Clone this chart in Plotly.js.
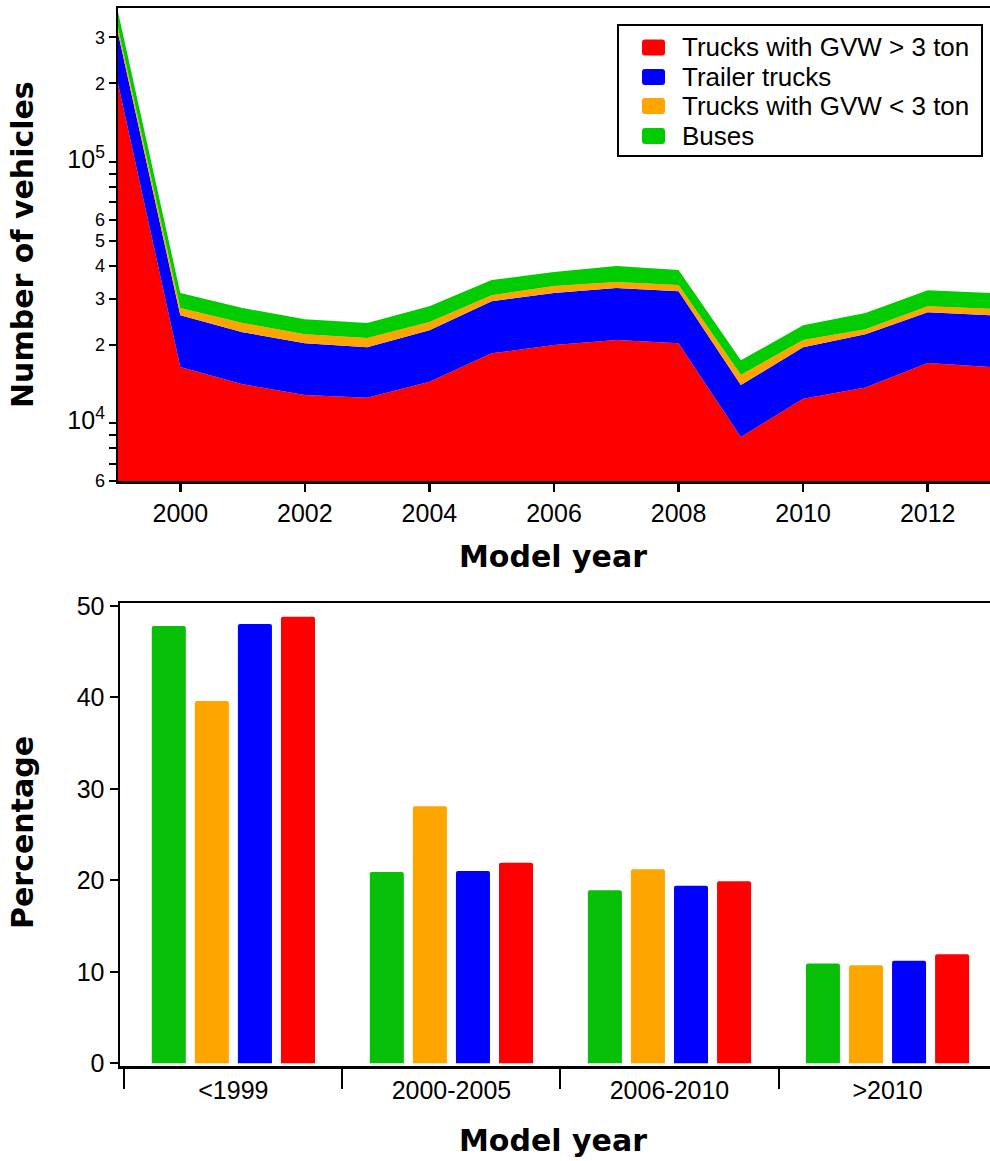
<!DOCTYPE html>
<html>
<head>
<meta charset="utf-8">
<script src="https://cdn.plot.ly/plotly-3.0.1.min.js"></script>
<style>html,body{margin:0;padding:0;background:#fff;}#chart{width:990px;height:1161px;}</style>
</head>
<body>
<div id="chart"></div>
<script>
// ---- Data: top chart (number of vehicles by model year) ----
var years = [1999, 2000, 2001, 2002, 2003, 2004, 2005, 2006, 2007, 2008, 2009, 2010, 2011, 2012, 2013];
var trucksHeavy = [200000, 16400, 14100, 12800, 12500, 14400, 18500, 19900, 20800, 20200, 8840, 12400, 13700, 17000, 16400];
var trailerTrucks = [112000, 9500, 8200, 7400, 7000, 8300, 10800, 11600, 12100, 11800, 5160, 7100, 8200, 9600, 9500];
var trucksLight = [14000, 1700, 1900, 1700, 1700, 1700, 1600, 2000, 1800, 1800, 1300, 1300, 1000, 1400, 1500];
var buses = [50000, 3900, 3400, 3100, 3000, 3600, 4400, 4400, 5300, 4800, 2100, 2900, 3500, 4300, 4100];

var seriesNames = ['Trucks with GVW > 3 ton', 'Trailer trucks', 'Trucks with GVW < 3 ton', 'Buses'];

// ---- Data: bottom chart (percentage by model-year group) ----
var yearGroups = ['&lt;1999', '2000-2005', '2006-2010', '&gt;2010'];
var pctBuses = [47.8, 20.9, 18.9, 10.9];
var pctTrucksLight = [39.6, 28.1, 21.2, 10.7];
var pctTrailer = [48.0, 21.0, 19.4, 11.2];
var pctTrucksHeavy = [48.8, 21.9, 19.9, 11.9];

// ---- Tick labels (top log axis) ----
var logTickVals = [6000, 10000, 20000, 30000, 40000, 50000, 60000, 100000, 200000, 300000];
var logTickText = ['6', '<span style="font-size:25px">10<sup>4</sup></span>', '2', '3', '4', '5', '6', '<span style="font-size:25px">10<sup>5</sup></span>', '2', '3'];
var logMinorVals = [7000, 8000, 9000, 70000, 80000, 90000];
var xTickVals = [2000, 2002, 2004, 2006, 2008, 2010, 2012];
var pctTickVals = [0, 10, 20, 30, 40, 50];

// ---- Styles ----
var cRed = '#FF0000', cBlue = '#0000FF', cOrange = '#FFA500', cGreenArea = '#00CC00', cGreenBar = '#08BF08';
var W = 990, H = 1161;
function px(x) { return x / W; }
function py(y) { return 1 - y / H; }

var traces = [];
var areaData = [trucksHeavy, trailerTrucks, trucksLight, buses];
var areaColors = [cRed, cBlue, cOrange, cGreenArea];
for (var i = 0; i < areaData.length; i++) {
  traces.push({
    type: 'scatter', mode: 'lines', x: years, y: areaData[i],
    stackgroup: 'veh', line: {width: 0, color: areaColors[i]},
    fillcolor: areaColors[i], name: seriesNames[i], showlegend: false,
    xaxis: 'x', yaxis: 'y', hoverinfo: 'x+y+name'
  });
}

var barData = [pctBuses, pctTrucksLight, pctTrailer, pctTrucksHeavy];
var barNames = [seriesNames[3], seriesNames[2], seriesNames[1], seriesNames[0]];
var barColors = [cGreenBar, cOrange, cBlue, cRed];
for (var j = 0; j < barData.length; j++) {
  traces.push({
    type: 'bar', x: yearGroups, y: barData[j], name: barNames[j],
    marker: {color: barColors[j], cornerradius: 2, line: {width: 0}},
    showlegend: false, xaxis: 'x2', yaxis: 'y2'
  });
}

// ---- Custom legend (shapes + text) ----
var shapes = [];
var annotations = [];
shapes.push({type: 'rect', xref: 'paper', yref: 'paper', x0: px(618), x1: px(982), y0: py(25), y1: py(156),
  line: {color: '#000', width: 2}, fillcolor: '#fff', layer: 'above'});
var legColors = [cRed, cBlue, cOrange, cGreenArea];
var legRowY = [47.5, 77, 106, 136];
for (var k = 0; k < seriesNames.length; k++) {
  var x0 = 642, x1 = 665, y0 = legRowY[k] - 8, y1 = legRowY[k] + 8, r = 3;
  var path = 'M' + (x0 + r) + ',' + y0 + ' L' + (x1 - r) + ',' + y0 + ' Q' + x1 + ',' + y0 + ' ' + x1 + ',' + (y0 + r) +
    ' L' + x1 + ',' + (y1 - r) + ' Q' + x1 + ',' + y1 + ' ' + (x1 - r) + ',' + y1 +
    ' L' + (x0 + r) + ',' + y1 + ' Q' + x0 + ',' + y1 + ' ' + x0 + ',' + (y1 - r) +
    ' L' + x0 + ',' + (y0 + r) + ' Q' + x0 + ',' + y0 + ' ' + (x0 + r) + ',' + y0 + ' Z';
  var pth = path.replace(/(-?\d+(\.\d+)?),(-?\d+(\.\d+)?)/g, function(m, a, b, c) {
    return px(parseFloat(a)).toFixed(5) + ',' + py(parseFloat(c)).toFixed(5);
  });
  shapes.push({type: 'path', xref: 'paper', yref: 'paper', path: pth, fillcolor: legColors[k], line: {width: 0}, layer: 'above'});
  annotations.push({xref: 'paper', yref: 'paper', x: px(680), y: py(legRowY[k]), xanchor: 'left', yanchor: 'middle',
    text: seriesNames[k].replace(/</g, '&lt;').replace(/>/g, '&gt;'), showarrow: false,
    font: {family: 'Liberation Sans, Arial, sans-serif', size: 26, color: '#000'}});
}

// ---- Axis titles ----
var titleFont = {family: 'DejaVu Sans, sans-serif', size: 30, color: '#000'};
annotations.push({xref: 'paper', yref: 'paper', x: px(22), y: py(245), text: '<b>Number of vehicles</b>', textangle: -90,
  showarrow: false, xanchor: 'center', yanchor: 'middle', font: titleFont});
annotations.push({xref: 'paper', yref: 'paper', x: px(553), y: py(556), text: '<b>Model year</b>',
  showarrow: false, xanchor: 'center', yanchor: 'middle', font: titleFont});
annotations.push({xref: 'paper', yref: 'paper', x: px(22), y: py(833), text: '<b>Percentage</b>', textangle: -90,
  showarrow: false, xanchor: 'center', yanchor: 'middle', font: titleFont});
annotations.push({xref: 'paper', yref: 'paper', x: px(553), y: py(1140), text: '<b>Model year</b>',
  showarrow: false, xanchor: 'center', yanchor: 'middle', font: titleFont});

var tickFont = {family: 'Liberation Sans, Arial, sans-serif', size: 25, color: '#000'};

var layout = {
  width: W, height: H,
  margin: {l: 0, r: 0, t: 0, b: 0, pad: 0},
  paper_bgcolor: '#fff', plot_bgcolor: '#fff',
  font: {family: 'Liberation Sans, Arial, sans-serif', color: '#000'},
  showlegend: false,
  barmode: 'group', bargap: 0.21, bargroupgap: 0.21,
  xaxis: {
    domain: [px(118), 1], range: [1999, 2013], anchor: 'y',
    tickmode: 'array', tickvals: xTickVals, ticks: 'outside', ticklen: 8, tickwidth: 2.5, tickcolor: '#000',
    showline: true, linewidth: 2.5, linecolor: '#000', mirror: true, showgrid: false, zeroline: false,
    tickfont: tickFont
  },
  yaxis: {
    domain: [py(481), py(8)], type: 'log', range: [Math.log10(6000), 5.59], anchor: 'x',
    tickmode: 'array', tickvals: logTickVals, ticktext: logTickText,
    ticks: 'outside', ticklen: 7, tickwidth: 2, tickcolor: '#000',
    minor: {tickmode: 'array', tickvals: logMinorVals, ticks: 'outside', ticklen: 7, tickwidth: 2, tickcolor: '#000', showgrid: false},
    showline: true, linewidth: 2.5, linecolor: '#000', showgrid: false, zeroline: false,
    tickfont: {family: 'Liberation Sans, Arial, sans-serif', size: 18, color: '#000'}
  },
  xaxis2: {
    domain: [px(120), 1], type: 'category', range: [-0.52, 3.47], anchor: 'y2',
    tickson: 'boundaries', ticks: 'outside', ticklen: 20, tickwidth: 2, tickcolor: '#000',
    showline: true, linewidth: 2.5, linecolor: '#000', mirror: true, showgrid: false, zeroline: false,
    tickfont: tickFont
  },
  yaxis2: {
    domain: [py(1066), py(603)], range: [-0.3, 50.3], anchor: 'x2',
    tickmode: 'array', tickvals: pctTickVals, ticks: 'outside', ticklen: 8, tickwidth: 2, tickcolor: '#000',
    showline: true, linewidth: 2.5, linecolor: '#000', showgrid: false, zeroline: false,
    tickfont: tickFont
  },
  shapes: shapes,
  annotations: annotations
};

Plotly.newPlot('chart', traces, layout, {displayModeBar: false, staticPlot: true});
</script>
</body>
</html>
